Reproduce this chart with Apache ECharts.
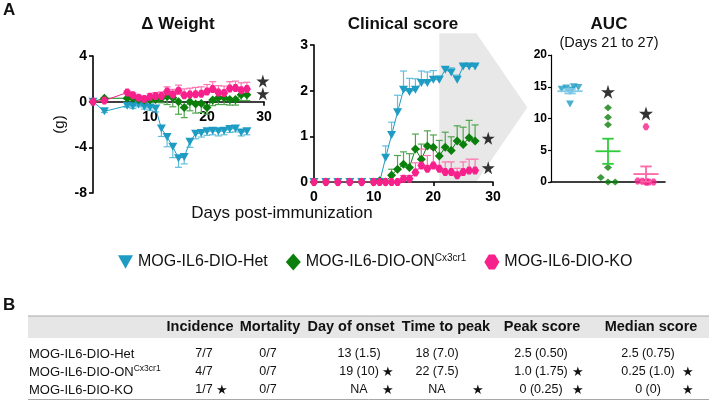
<!DOCTYPE html>
<html>
<head>
<meta charset="utf-8">
<script src="https://cdn.jsdelivr.net/npm/echarts@6/dist/echarts.min.js"></script>
<style>
  html, body { margin: 0; padding: 0; background: #fff; }
  #chart { width: 709px; height: 410px; }
</style>
</head>
<body>
<div id="chart"></div>
<script>
// 分组名称与颜色
const groupNames = ['MOG-IL6-DIO-Het', 'MOG-IL6-DIO-ON', 'MOG-IL6-DIO-KO'];
const groupSup = ['', 'Cx3cr1', ''];
const colors = ['#1e9cc3', '#0b7f0b', '#f7218b'];
const barColors = ['#62bddb', '#4ea64e', '#ff72b0'];
const meanColors = ['#80c9e6', '#2fcc3a', '#ff66a6'];

// Δ Weight (g)
const weightDays = [0, 2, 6, 7, 8, 9, 10, 11, 12, 13, 14, 15, 16, 17, 18, 19, 20, 21, 22, 23, 24, 25, 26, 27];
const weightHet = [0, -0.85, -0.35, -0.4, -0.25, -0.45, -0.5, -0.6, -2.35, -3.1, -3.95, -4.95, -4.85, -3.5, -2.8, -2.75, -2.6, -2.55, -2.6, -2.55, -2.4, -2.35, -2.7, -2.6];
const weightHetSem = [0, 0.1, 0.15, 0.2, 0.2, 0.2, 0.25, 0.3, 0.7, 0.85, 0.95, 0.8, 0.6, 0.5, 0.45, 0.35, 0.35, 0.35, 0.4, 0.35, 0.3, 0.3, 0.3, 0.3];
const weightON = [0, 0.3, 0.3, 0.3, 0.2, 0.15, 0.2, 0.2, 0.3, 0.45, 0.35, 0, -0.5, 0, -0.2, -0.15, -0.5, 0.15, 0.35, 0.35, 0.2, 0.2, 0.6, 0.6];
const weightONSem = [0, 0.1, 0.1, 0.15, 0.2, 0.2, 0.2, 0.25, 0.4, 0.7, 0.8, 1.1, 0.9, 0.8, 0.8, 0.8, 0.6, 0.5, 0.6, 0.6, 0.5, 0.5, 0.5, 0.5];
const weightKO = [0, 0.1, 0.8, 0.57, 0.35, 0.23, 0.43, 0.5, 0.5, 0.9, 0.63, 0.95, 0.57, 0.63, 0.65, 0.7, 0.9, 1.1, 0.8, 0.77, 1.15, 1.2, 1.0, 1.1];
const weightKOSem = [0, 0.1, 0.15, 0.2, 0.2, 0.2, 0.25, 0.3, 0.35, 0.4, 0.45, 0.5, 0.55, 0.55, 0.6, 0.6, 0.6, 0.65, 0.6, 0.6, 0.6, 0.6, 0.65, 0.6];
const weightStars = [[29.8, 1.8], [29.8, 0.7]];

// Clinical score
const scoreDays = [0, 2, 4, 6, 8, 10, 11, 12, 13, 14, 15, 16, 17, 18, 19, 20, 21, 22, 23, 24, 25, 26, 27];
const scoreHet = [0, 0, 0, 0, 0, 0, 0, 0.53, 1.03, 1.53, 2.02, 1.97, 2.02, 2.17, 2.17, 2.24, 2.24, 2.46, 2.4, 2.24, 2.53, 2.53, 2.53];
const scoreHetSem = [0, 0, 0, 0, 0, 0, 0, 0.26, 0.28, 0.37, 0.41, 0.3, 0.24, 0.26, 0.24, 0.2, 0.08, 0.05, 0.1, 0.1, 0.03, 0.03, 0.03];
const scoreON = [0, 0, 0, 0, 0, 0, 0.03, 0, 0.15, 0.28, 0.39, 0.32, 0.72, 0.5, 0.79, 0.76, 0.57, 0.76, 0.69, 0.9, 0.82, 0.97, 0.9];
const scoreONSem = [0, 0, 0, 0, 0, 0, 0, 0, 0.13, 0.3, 0.27, 0.3, 0.33, 0.33, 0.33, 0.27, 0.34, 0.33, 0.3, 0.33, 0.38, 0.38, 0.35];
const scoreKO = [0, 0, 0, 0, 0, 0, 0, 0, 0, 0, 0.07, 0.07, 0.21, 0.36, 0.29, 0.36, 0.29, 0.22, 0.22, 0.15, 0.22, 0.25, 0.25];
const scoreKOSem = [0, 0, 0, 0, 0, 0, 0, 0, 0, 0, 0.07, 0.07, 0.21, 0.36, 0.29, 0.36, 0.29, 0.22, 0.22, 0.15, 0.22, 0.25, 0.25];
const scoreStars = [[29.2, 0.96], [29.2, 0.31]];
const aucWindow = [21, 27];

// AUC (Days 21 to 27)
const aucHet = [14.6, 14.8, 14.2, 15.0, 14.9, 14.5, 12.3];
const aucHetJitter = [-0.22, -0.1, 0, 0.1, 0.22, 0.05, 0];
const aucON = [11.7, 10.2, 9.0, 2.3, 0.7, 0, 0];
const aucONJitter = [0, 0, 0, 0, -0.19, 0, 0.19];
const aucKO = [8.7, 0.15, 0.1, 0, 0, 0, 0];
const aucKOJitter = [0, -0.22, -0.1, 0, 0.08, 0.2, 0.02];
const aucMean = [14.3, 4.84, 1.25];
const aucSem = [0.35, 1.98, 1.2];
const aucStars = [[2, 14.2], [3, 10.8]];

// 表格 B
const tableHeaders = ['Incidence', 'Mortality', 'Day of onset', 'Time to peak', 'Peak score', 'Median score'];
const tableCells = [
    ['7/7', '0/7', '13 (1.5)', '18 (7.0)', '2.5 (0.50)', '2.5 (0.75)'],
    ['4/7', '0/7', '19 (10)', '22 (7.5)', '1.0 (1.75)', '0.25 (1.0)'],
    ['1/7', '0/7', 'NA', 'NA', '0 (0.25)', '0 (0)']
];
const tableStars = [
    [0, 0, 0, 0, 0, 0],
    [0, 0, 1, 0, 1, 1],
    [1, 0, 1, 1, 1, 1]
];

const FONT = '"Liberation Sans", Arial, sans-serif';
const STAR = 'path://M50,0L61,35L98,35L68,57L79,91L50,70L21,91L32,57L2,35L39,35Z';
const symbols = [
    'path://M0,0L10,0L5,9Z',
    'diamond',
    'path://M3,0L7,0L10,5L7,10L3,10L0,5Z'
];
const symbolSizes = [[9, 8], 9, [8, 8]];

function zip(xs, ys, es) {
    return xs.map((x, i) => es ? [x, ys[i], es[i]] : [x, ys[i]]);
}

// 误差线
function errRender(sign, color) {
    return function (params, api) {
        const x = api.value(0), y = api.value(1), e = api.value(2);
        if (!e) return null;
        const p0 = api.coord([x, y]);
        const p1 = api.coord([x, y + sign * e]);
        const st = { stroke: color, lineWidth: 1.2 };
        return {
            type: 'group',
            children: [
                { type: 'line', shape: { x1: p0[0], y1: p0[1], x2: p1[0], y2: p1[1] }, style: st },
                { type: 'line', shape: { x1: p1[0] - 3.5, y1: p1[1], x2: p1[0] + 3.5, y2: p1[1] }, style: st }
            ]
        };
    };
}

function axisCfg(grid, min, max, extra) {
    return Object.assign({
        type: 'value', gridIndex: grid, min: min, max: max,
        splitLine: { show: false },
        axisLine: { show: true, onZero: false, lineStyle: { color: '#000', width: 1.6 } },
        axisTick: { show: true, length: 4, lineStyle: { color: '#000', width: 1.6 } },
        axisLabel: { color: '#000', fontWeight: 'bold', fontSize: 14, fontFamily: FONT, margin: 6 }
    }, extra);
}

const weightSets = [[weightHet, weightHetSem, -1], [weightON, weightONSem, -1], [weightKO, weightKOSem, 1]];
const scoreSets = [[scoreHet, scoreHetSem, 1], [scoreON, scoreONSem, 1], [scoreKO, scoreKOSem, 1]];
const aucSets = [[aucHet, aucHetJitter], [aucON, aucONJitter], [aucKO, aucKOJitter]];

const series = [];
[[weightDays, weightSets, 0], [scoreDays, scoreSets, 1]].forEach(([days, sets, g]) => {
    sets.forEach(([vals, sem, sign], i) => {
        series.push({
            type: 'custom', xAxisIndex: g, yAxisIndex: g, z: 1,
            renderItem: errRender(sign, barColors[i]),
            data: zip(days, vals, sem), silent: true
        });
    });
    sets.forEach(([vals], i) => {
        series.push({
            type: 'line', name: groupNames[i], xAxisIndex: g, yAxisIndex: g, z: 3,
            data: zip(days, vals), symbol: symbols[i], symbolSize: symbolSizes[i],
            showAllSymbol: true,
            lineStyle: { color: colors[i], width: 1 },
            itemStyle: { color: colors[i] }
        });
    });
});
series.push({
    type: 'scatter', xAxisIndex: 0, yAxisIndex: 0, symbol: STAR, symbolSize: 13,
    itemStyle: { color: '#000' }, data: weightStars, silent: true
});
series.push({
    type: 'scatter', xAxisIndex: 1, yAxisIndex: 1, symbol: STAR, symbolSize: 13,
    itemStyle: { color: '#000' }, data: scoreStars, silent: true
});
aucSets.forEach(([vals, jit], i) => {
    series.push({
        type: 'scatter', name: groupNames[i], xAxisIndex: 2, yAxisIndex: 2, z: 3,
        symbol: symbols[i], symbolSize: i === 2 ? 7 : [8, 7],
        itemStyle: { color: colors[i] },
        data: vals.map((v, k) => [i + 1 + jit[k], v])
    });
});
series.push({
    type: 'custom', xAxisIndex: 2, yAxisIndex: 2, z: 4, silent: true,
    data: aucMean.map((m, i) => [i + 1, m, aucSem[i]]),
    renderItem: function (params, api) {
        const x = api.value(0), m = api.value(1), s = api.value(2);
        const c = meanColors[params.dataIndex];
        const st = { stroke: c, lineWidth: 1.8 };
        const a = api.coord([x - 0.33, m]), b = api.coord([x + 0.33, m]);
        const lo = api.coord([x, m - s]), hi = api.coord([x, m + s]);
        const cw = api.size([0.15, 0])[0];
        return {
            type: 'group',
            children: [
                { type: 'line', shape: { x1: a[0], y1: a[1], x2: b[0], y2: b[1] }, style: st },
                { type: 'line', shape: { x1: lo[0], y1: lo[1], x2: hi[0], y2: hi[1] }, style: st },
                { type: 'line', shape: { x1: lo[0] - cw, y1: lo[1], x2: lo[0] + cw, y2: lo[1] }, style: st },
                { type: 'line', shape: { x1: hi[0] - cw, y1: hi[1], x2: hi[0] + cw, y2: hi[1] }, style: st }
            ]
        };
    }
});
series.push({
    type: 'scatter', xAxisIndex: 2, yAxisIndex: 2, symbol: STAR, symbolSize: 14,
    itemStyle: { color: '#000' }, data: aucStars, silent: true
});

const chart = echarts.init(document.getElementById('chart'));
chart.setOption({
    animation: false,
    backgroundColor: '#fff',
    grid: [
        { left: 93, top: 56, width: 171, height: 137 },
        { left: 314, top: 45, width: 179, height: 137 },
        { left: 551, top: 55, width: 114, height: 127 },
        // 体重图的 x 轴放在 0 线上
        { left: 93, top: 56, width: 171, height: 137 * 4 / 12 }
    ],
    xAxis: [
        axisCfg(0, 0, 30, { interval: 10, show: false }),
        axisCfg(1, 0, 30, { interval: 10, axisLabel: { color: '#000', fontWeight: 'bold', fontSize: 14, fontFamily: FONT, margin: 8 } }),
        axisCfg(2, 0.5, 3.5, { axisTick: { show: false }, axisLabel: { show: false } }),
        axisCfg(3, 0, 30, { interval: 10, axisLabel: { color: '#000', fontWeight: 'bold', fontSize: 14, fontFamily: FONT, margin: 8, formatter: v => v === 0 ? '' : v } })
    ],
    yAxis: [
        axisCfg(0, -8, 4, {
            interval: 4, name: '(g)', nameLocation: 'middle', nameRotate: 90, nameGap: 26,
            nameTextStyle: { color: '#111', fontSize: 15, fontFamily: FONT }
        }),
        axisCfg(1, 0, 3, { interval: 1 }),
        axisCfg(2, 0, 20, {
            interval: 5,
            axisTick: { show: true, length: 3, lineStyle: { color: '#000', width: 1.2 } },
            axisLine: { show: true, lineStyle: { color: '#000', width: 1.2 } },
            axisLabel: { color: '#000', fontWeight: 'bold', fontSize: 12, fontFamily: FONT, margin: 4 }
        }),
        axisCfg(3, 0, 1, { show: false })
    ],
    legend: {
        left: 118, top: 253, padding: 0, itemGap: 18, itemWidth: 15, itemHeight: 17,
        selectedMode: false,
        data: groupNames.map((n, i) => ({ name: n, icon: i === 1 ? 'diamond' : symbols[i] })),
        formatter: n => {
            const i = groupNames.indexOf(n);
            return groupSup[i] ? '{a|' + n + '}{s|' + groupSup[i] + '}' : '{a|' + n + '}';
        },
        textStyle: {
            color: '#111', fontFamily: FONT, fontSize: 16,
            rich: {
                a: { fontSize: 16, fontFamily: FONT, color: '#111', lineHeight: 18 },
                s: { fontSize: 10, fontFamily: FONT, color: '#111', verticalAlign: 'top', lineHeight: 18, padding: [0, 0, 8, 0] }
            }
        }
    },
    series: series
});

// 标题、灰色箭头与表格
function txt(x, y, text, size, weight, align, extra) {
    return {
        type: 'text', silent: true,
        style: Object.assign({
            x: x, y: y, text: text, fill: '#111',
            font: (weight || 'normal') + ' ' + size + 'px ' + FONT,
            textAlign: align || 'center', textVerticalAlign: 'middle'
        }, extra || {})
    };
}

const g = [];
const pL = chart.convertToPixel({ gridIndex: 1 }, [aucWindow[0], 0]);
const pR = chart.convertToPixel({ gridIndex: 1 }, [aucWindow[1] + 0.2, 3.26]);
const mid = (pL[1] + pR[1]) / 2;
g.push({
    type: 'polygon', z: -1, silent: true,
    shape: { points: [[pL[0], pR[1]], [pR[0], pR[1]], [pR[0] + 51, mid], [pR[0], pL[1]], [pL[0], pL[1]]] },
    style: { fill: '#e8e8e8' }
});

g.push(txt(3, 10, 'A', 17, 'bold', 'left'));
g.push(txt(178, 24, 'Δ Weight', 17, 'bold'));
g.push(txt(403, 24, 'Clinical score', 17, 'bold'));
g.push(txt(609, 24, 'AUC', 17, 'bold'));
g.push(txt(609, 43, '(Days 21 to 27)', 14.5, 'normal'));
g.push(txt(282, 213, 'Days post-immunization', 17, 'normal'));

// 表格
const headerX = [200, 270, 351, 446, 542, 651];
const cellX = [204, 268, 359, 437, 541, 648];
const starX = [222, 0, 388, 478, 578, 688];
const rowY = [354, 372, 390];
g.push(txt(3, 305, 'B', 17, 'bold', 'left'));
g.push({ type: 'rect', silent: true, shape: { x: 28, y: 316, width: 681, height: 22 }, style: { fill: '#e6e6e6' } });
g.push({ type: 'line', silent: true, shape: { x1: 28, y1: 316, x2: 709, y2: 316 }, style: { stroke: '#a8a8a8', lineWidth: 1 } });
g.push({ type: 'line', silent: true, shape: { x1: 28, y1: 399.5, x2: 709, y2: 399.5 }, style: { stroke: '#a8a8a8', lineWidth: 1 } });
tableHeaders.forEach((h, j) => g.push(txt(headerX[j], 327, h, 14.5, 'bold')));
groupNames.forEach((n, i) => {
    if (groupSup[i]) {
        g.push(txt(29, rowY[i], '{a|' + n + '}{s|' + groupSup[i] + '}', 13, 'normal', 'left', {
            rich: {
                a: { fontSize: 13, fontFamily: FONT, fill: '#111', lineHeight: 16 },
                s: { fontSize: 8.5, fontFamily: FONT, fill: '#111', verticalAlign: 'top', lineHeight: 16, padding: [0, 0, 6, 0] }
            }
        }));
    } else {
        g.push(txt(29, rowY[i], n, 13, 'normal', 'left'));
    }
    tableCells[i].forEach((c, j) => {
        g.push(txt(cellX[j], rowY[i], c, 12.5, 'normal'));
        if (tableStars[i][j]) g.push(txt(starX[j], rowY[i], '★', 13, 'normal'));
    });
});

chart.setOption({ graphic: g });
</script>
</body>
</html>
